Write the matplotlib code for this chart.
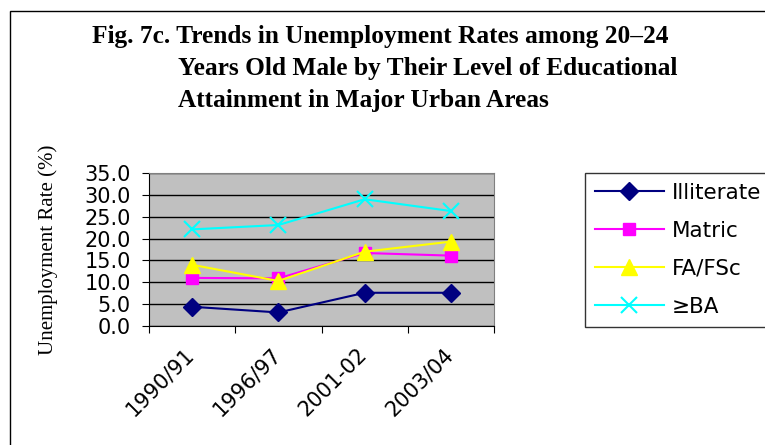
import matplotlib.pyplot as plt
from matplotlib.patches import Rectangle
from matplotlib.transforms import ScaledTranslation
import numpy as np

# data
years = ['1990/91', '1996/97', '2001-02', '2003/04']
illiterate = [4.4, 3.1, 7.6, 7.6]
matric = [11.0, 10.9, 16.7, 16.1]
fa_fsc = [14.0, 10.3, 17.0, 19.3]
ba = [22.1, 23.1, 29.0, 26.3]
series_names = ['Illiterate', 'Matric', 'FA/FSc', '\u2265BA']

fig = plt.figure(figsize=(7.65, 4.45), dpi=100)
ax = fig.add_axes([149/765, 1-326/445, (494-149)/765, (326-173)/445])

x = np.arange(len(years)) + 0.5
ax.set_facecolor('#C0C0C0')
ax.plot(x, illiterate, color='#000080', marker='D', ms=9, lw=1.5, label=series_names[0])
ax.plot(x, matric, color='#FF00FF', marker='s', ms=9, lw=1.5, label=series_names[1])
ax.plot(x, fa_fsc, color='#FFFF00', marker='^', ms=12, lw=1.5, label=series_names[2])
ax.plot(x, ba, color='#00FFFF', marker='x', ms=12, mew=1.5, lw=1.5, label=series_names[3])

ax.set_xlim(0, len(years))
ax.set_ylim(0, 35)
ax.set_yticks(np.arange(0, 36, 5))
ax.set_yticklabels(['%.1f' % v for v in np.arange(0, 36, 5)])
ax.yaxis.grid(True, color='black', lw=1)
ax.set_axisbelow(True)

# tick marks between categories, labels at category centres
ax.set_xticks(np.arange(0, len(years) + 1))
ax.set_xticklabels([])
ax.set_xticks(x, minor=True)
ax.set_xticklabels(years, minor=True, rotation=45, ha='right', rotation_mode='anchor')
ax.tick_params(axis='x', which='minor', length=0, pad=13)
ax.tick_params(axis='both', which='major', direction='out', length=5, color='black')
ax.tick_params(axis='y', pad=8)
shift = ScaledTranslation(-8/100, 0, fig.dpi_scale_trans)
for lab in ax.get_xticklabels(minor=True):
    lab.set_transform(lab.get_transform() + shift)
for lab in ax.get_xticklabels(minor=True) + ax.get_yticklabels():
    lab.set_fontfamily('DejaVu Sans')
    lab.set_fontsize(15)

for s in ['top', 'right']:
    ax.spines[s].set_color('#808080')
for s in ['left', 'bottom']:
    ax.spines[s].set_color('black')

leg = ax.legend(loc='upper left', bbox_to_anchor=(585/765, 1-173/445),
                bbox_transform=fig.transFigure, borderaxespad=0,
                prop={'family': 'DejaVu Sans', 'size': 15.5},
                handlelength=3.2, handletextpad=0.4, labelspacing=0.84,
                borderpad=0.45, frameon=True, fancybox=False, edgecolor='black')
leg.get_frame().set_linewidth(1)

# title with hanging indent
tfont = {'family': 'Liberation Serif', 'weight': 'bold', 'size': 18.3}
fig.text(92/765, 1-43/445, 'Fig. 7c. Trends in Unemployment Rates among 20\u201324', va='baseline', **tfont)
fig.text(178/765, 1-75/445, 'Years Old Male by Their Level of Educational', va='baseline', **tfont)
fig.text(178/765, 1-107/445, 'Attainment in Major Urban Areas', va='baseline', **tfont)

fig.text(48/765, 1-250/445, 'Unemployment Rate (%)', rotation=90, ha='center', va='center',
         family='Liberation Serif', size=15)

# outer frame of the chart
fig.patches.append(Rectangle((10/765, -0.1), 1.2, 1.1 - 11/445, fill=False,
                             edgecolor='black', lw=1, transform=fig.transFigure))

fig.savefig('out.png', dpi=100)
